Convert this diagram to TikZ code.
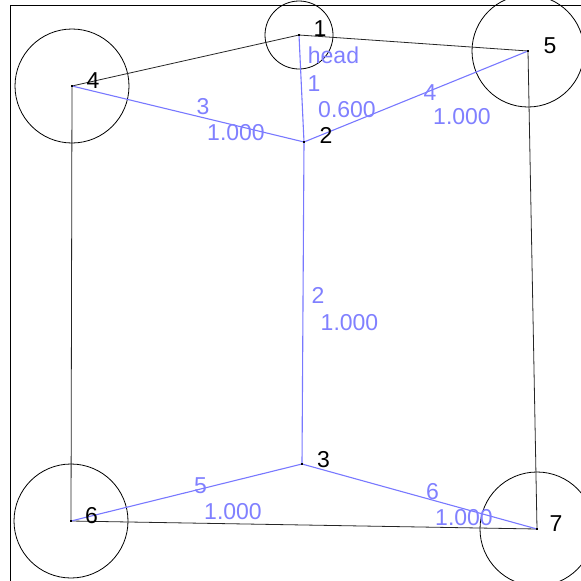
\documentclass[tikz,border=0pt]{standalone}
\usepackage{fontspec}
\setmainfont{Liberation Sans}
\definecolor{edgeblue}{RGB}{120,120,255}
\definecolor{textblue}{RGB}{128,128,255}
\begin{document}
\begin{tikzpicture}[x=1pt,y=-1pt,
  pt/.style={inner sep=0pt,minimum size=0pt},
  dotmark/.style={fill=black,inner sep=0pt,minimum size=2.5pt,rectangle},
  lbl/.style={inner sep=0pt,anchor=base,font=\fontsize{23}{27}\selectfont},
  blbl/.style={lbl,text=textblue},
  tree/.style={draw=edgeblue,line width=1.1pt},
  frame/.style={draw=black!85,line width=0.8pt},
  ring/.style={draw=black,line width=0.8pt}]
\useasboundingbox (0,0) rectangle (581,581);
\begin{scope}
\clip (0,0) rectangle (581,581);
\draw[line width=1pt] (10,600) -- (10,5) -- (600,5);
\end{scope}
% nodes
\coordinate (n1) at (299,35);
\coordinate (n2) at (304,142);
\coordinate (n3) at (302,464);
\coordinate (n4) at (72,86);
\coordinate (n5) at (528,51);
\coordinate (n6) at (71,521);
\coordinate (n7) at (537,529);
% circles
\draw[ring] (n1) circle[radius=34];
\draw[ring] (n4) circle[radius=57];
\draw[ring] (n5) circle[radius=56];
\draw[ring] (n6) circle[radius=57];
\draw[ring] (n7) circle[radius=57];
% black frame edges
\draw[frame] (n4) -- (n1) -- (n5) -- (n7) -- (n6) -- (n4);
% blue tree edges
\draw[tree] (n1) -- (n2);
\draw[tree] (n2) -- (n3);
\draw[tree] (n4) -- (n2);
\draw[tree] (n5) -- (n2);
\draw[tree] (n6) -- (n3);
\draw[tree] (n7) -- (n3);
% dots
\foreach \n in {n1,n2,n3,n4,n5,n6,n7} \node[dotmark] at (\n) {};
% node labels
\node[lbl] (l1) at (320,36) {1};
\node[lbl] (l2) at (326,143) {2};
\node[lbl] (l3) at (323.5,467) {3};
\node[lbl] (l4) at (93,88) {4};
\node[lbl] (l5) at (550,53) {5};
\node[lbl] (l6) at (91.5,523) {6};
\node[lbl] (l7) at (556,531) {7};
\node[blbl] (lhead) at (333.5,63) {head};
% edge labels
\node[blbl] (e1a) at (314,91) {1};
\node[blbl] (e1b) at (347,117) {0.600};
\node[blbl] (e2a) at (318,303) {2};
\node[blbl] (e2b) at (349.5,330) {1.000};
\node[blbl] (e3a) at (203,114) {3};
\node[blbl] (e3b) at (236,140) {1.000};
\node[blbl] (e4a) at (430,100) {4};
\node[blbl] (e4b) at (462,124) {1.000};
\node[blbl] (e5a) at (200.5,493) {5};
\node[blbl] (e5b) at (233,519) {1.000};
\node[blbl] (e6a) at (432.5,499) {6};
\node[blbl] (e6b) at (464,525) {1.000};
\end{tikzpicture}
\end{document}
